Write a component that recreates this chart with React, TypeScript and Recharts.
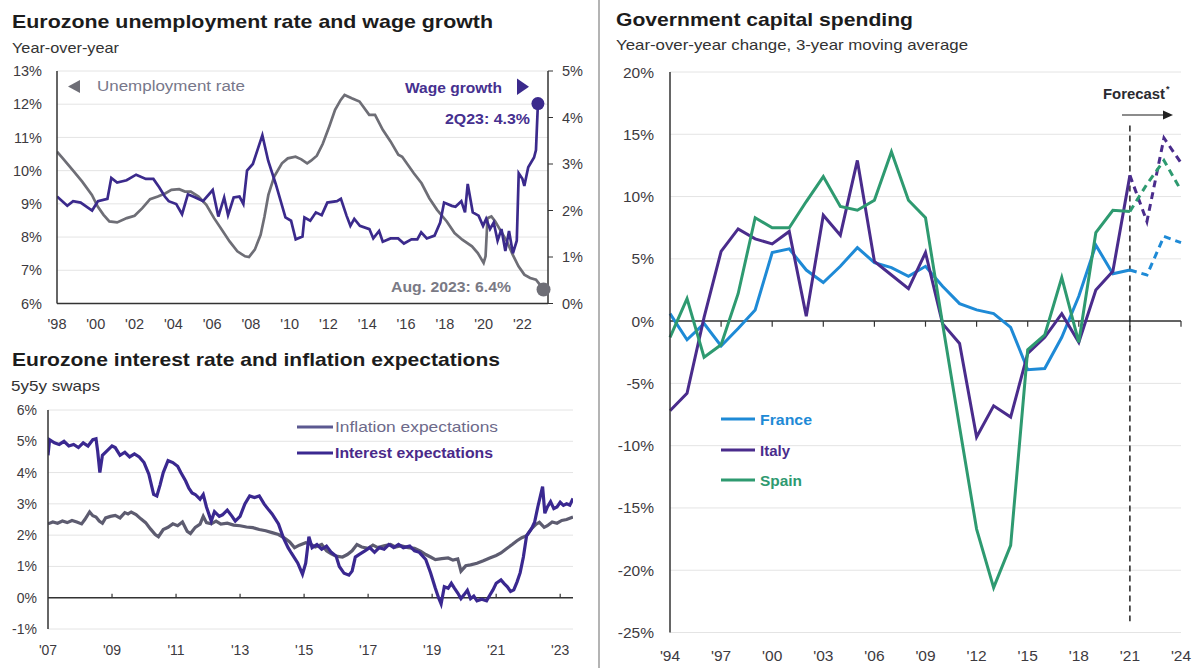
import React from 'react';
import { LineChart, Line, XAxis, YAxis, CartesianGrid, ReferenceLine, ReferenceDot } from 'recharts';

const FONT = '"Liberation Sans", Arial, sans-serif';

// ---------- Top-left: unemployment rate (left axis) and wage growth (right axis) ----------
const unemploymentRate: [number, number][] = [
  [1998.0, 10.57], [1998.3, 10.37], [1998.8, 10.02], [1999.3, 9.67], [1999.8, 9.27], [2000.1, 8.92],
  [2000.4, 8.67], [2000.7, 8.47], [2001.1, 8.44], [2001.6, 8.57], [2002.0, 8.64], [2002.4, 8.87],
  [2002.8, 9.14], [2003.2, 9.22], [2003.6, 9.32], [2003.9, 9.42], [2004.3, 9.44], [2004.6, 9.37],
  [2004.9, 9.37], [2005.3, 9.22], [2005.7, 8.97], [2006.1, 8.57], [2006.5, 8.22], [2006.9, 7.87],
  [2007.3, 7.57], [2007.7, 7.42], [2007.9, 7.4], [2008.2, 7.62], [2008.5, 8.07], [2008.7, 8.62],
  [2008.9, 9.27], [2009.2, 9.82], [2009.6, 10.22], [2009.9, 10.37], [2010.3, 10.42], [2010.6, 10.34],
  [2010.9, 10.22], [2011.1, 10.3], [2011.4, 10.45], [2011.7, 10.8], [2012.04, 11.33], [2012.34, 11.83],
  [2012.63, 12.13], [2012.83, 12.28], [2013.2, 12.18], [2013.6, 12.08], [2014.1, 11.68], [2014.4, 11.68],
  [2014.8, 11.23], [2015.2, 10.88], [2015.6, 10.48], [2015.8, 10.42], [2016.4, 9.92], [2016.8, 9.62],
  [2017.2, 9.17], [2017.6, 8.82], [2018.1, 8.47], [2018.5, 8.12], [2018.9, 7.92], [2019.4, 7.72],
  [2019.7, 7.52], [2020.0, 7.22], [2020.1, 7.42], [2020.2, 8.57], [2020.4, 8.62], [2020.6, 8.47],
  [2020.9, 8.17], [2021.2, 7.87], [2021.5, 7.47], [2021.8, 7.12], [2022.1, 6.87], [2022.4, 6.77],
  [2022.7, 6.72], [2022.9, 6.57], [2023.09, 6.42],
];
const wageGrowth: [number, number][] = [
  [1998.0, 2.3], [1998.53, 2.1], [1998.83, 2.2], [1999.22, 2.17], [1999.81, 2.0], [2000.11, 2.2],
  [2000.6, 2.25], [2000.8, 2.7], [2001.1, 2.6], [2001.59, 2.65], [2002.08, 2.77], [2002.58, 2.68],
  [2002.97, 2.68], [2003.27, 2.5], [2003.56, 2.3], [2003.76, 2.2], [2004.15, 2.14], [2004.45, 1.92],
  [2004.75, 2.35], [2005.14, 2.28], [2005.53, 2.2], [2006.03, 2.44], [2006.32, 1.87], [2006.62, 2.28],
  [2006.82, 1.9], [2007.11, 2.28], [2007.41, 2.3], [2007.61, 2.14], [2007.8, 2.86], [2008.1, 3.0],
  [2008.59, 3.62], [2008.89, 3.07], [2009.28, 2.57], [2009.78, 1.85], [2010.07, 1.78], [2010.31, 1.38],
  [2010.66, 1.44], [2010.76, 1.85], [2011.06, 1.78], [2011.35, 1.96], [2011.65, 1.9], [2011.94, 2.17],
  [2012.44, 2.2], [2012.64, 2.25], [2012.93, 1.89], [2013.13, 1.67], [2013.33, 1.82], [2013.62, 1.67],
  [2014.11, 1.6], [2014.31, 1.4], [2014.61, 1.56], [2014.8, 1.33], [2015.2, 1.4], [2015.59, 1.4],
  [2015.89, 1.29], [2016.28, 1.38], [2016.58, 1.38], [2016.78, 1.53], [2017.07, 1.4], [2017.47, 1.46],
  [2017.76, 1.74], [2017.96, 2.17], [2018.36, 2.1], [2018.55, 2.08], [2018.85, 2.2], [2019.04, 1.96],
  [2019.18, 2.57], [2019.44, 1.96], [2019.74, 1.89], [2019.97, 1.67], [2020.13, 1.82], [2020.33, 1.6],
  [2020.52, 1.74], [2020.72, 1.35], [2020.92, 1.6], [2021.12, 1.13], [2021.31, 1.56], [2021.51, 1.08],
  [2021.71, 1.35], [2021.81, 2.8], [2022.0, 2.68], [2022.1, 2.53], [2022.3, 2.93], [2022.6, 3.14],
  [2022.7, 3.3], [2022.8, 4.3],
];
const unemploymentTicks = [6, 7, 8, 9, 10, 11, 12, 13];
const wageTicks = [0, 1, 2, 3, 4, 5];
const topYearTicks = [1998, 2000, 2002, 2004, 2006, 2008, 2010, 2012, 2014, 2016, 2018, 2020, 2022];

// ---------- Bottom-left: 5y5y swaps ----------
const inflationExpectations: [number, number][] = [
  [2007.0, 2.36], [2007.15, 2.42], [2007.3, 2.38], [2007.45, 2.45], [2007.6, 2.4], [2007.75, 2.47],
  [2007.9, 2.42], [2008.05, 2.36], [2008.15, 2.5], [2008.3, 2.74], [2008.4, 2.62], [2008.5, 2.58],
  [2008.6, 2.45], [2008.7, 2.38], [2008.8, 2.55], [2008.95, 2.6], [2009.1, 2.63], [2009.25, 2.55],
  [2009.4, 2.72], [2009.5, 2.68], [2009.6, 2.74], [2009.75, 2.66], [2009.9, 2.52], [2010.05, 2.4],
  [2010.2, 2.2], [2010.35, 2.02], [2010.45, 1.95], [2010.6, 2.18], [2010.75, 2.25], [2010.9, 2.36],
  [2011.05, 2.3], [2011.2, 2.42], [2011.35, 2.12], [2011.45, 2.05], [2011.6, 2.25], [2011.75, 2.35],
  [2011.85, 2.6], [2011.95, 2.4], [2012.1, 2.36], [2012.25, 2.45], [2012.4, 2.35], [2012.6, 2.38],
  [2012.8, 2.32], [2013.0, 2.3], [2013.2, 2.26], [2013.4, 2.24], [2013.6, 2.18], [2013.8, 2.14],
  [2014.0, 2.08], [2014.2, 2.02], [2014.4, 1.9], [2014.55, 1.78], [2014.7, 1.6], [2014.85, 1.68],
  [2015.05, 1.76], [2015.2, 1.72], [2015.35, 1.62], [2015.55, 1.7], [2015.7, 1.5], [2015.85, 1.4],
  [2016.0, 1.33], [2016.2, 1.3], [2016.35, 1.38], [2016.5, 1.5], [2016.65, 1.7], [2016.8, 1.62],
  [2017.0, 1.58], [2017.15, 1.68], [2017.3, 1.6], [2017.5, 1.66], [2017.7, 1.7], [2017.85, 1.62],
  [2018.05, 1.66], [2018.25, 1.6], [2018.45, 1.58], [2018.65, 1.48], [2018.8, 1.38], [2018.95, 1.3],
  [2019.1, 1.22], [2019.3, 1.25], [2019.5, 1.27], [2019.65, 1.2], [2019.8, 1.24], [2019.9, 0.85],
  [2020.05, 1.02], [2020.2, 1.05], [2020.4, 1.1], [2020.6, 1.18], [2020.8, 1.27], [2021.0, 1.35],
  [2021.15, 1.43], [2021.3, 1.55], [2021.5, 1.7], [2021.65, 1.82], [2021.8, 1.92], [2021.95, 1.98],
  [2022.1, 2.2], [2022.25, 2.35], [2022.35, 2.41], [2022.5, 2.25], [2022.6, 2.3], [2022.75, 2.42],
  [2022.9, 2.38], [2023.05, 2.47], [2023.2, 2.5], [2023.4, 2.58],
];
const interestExpectations: [number, number][] = [
  [2007.0, 4.55], [2007.05, 5.05], [2007.2, 4.95], [2007.35, 4.9], [2007.5, 5.0], [2007.65, 4.85],
  [2007.8, 4.9], [2007.95, 4.8], [2008.1, 4.95], [2008.25, 4.85], [2008.4, 5.05], [2008.5, 5.08],
  [2008.55, 4.7], [2008.62, 4.0], [2008.7, 4.55], [2008.85, 4.7], [2009.0, 4.85], [2009.1, 4.8],
  [2009.25, 4.55], [2009.4, 4.65], [2009.55, 4.5], [2009.7, 4.6], [2009.85, 4.5], [2010.0, 4.32],
  [2010.15, 3.95], [2010.3, 3.3], [2010.4, 3.25], [2010.5, 3.6], [2010.6, 4.0], [2010.75, 4.38],
  [2010.9, 4.32], [2011.05, 4.2], [2011.15, 4.0], [2011.3, 3.73], [2011.4, 3.5], [2011.5, 3.35],
  [2011.6, 3.3], [2011.75, 3.15], [2011.85, 3.3], [2011.95, 2.9], [2012.05, 2.6], [2012.1, 2.45],
  [2012.2, 2.75], [2012.35, 2.6], [2012.45, 2.65], [2012.6, 2.8], [2012.75, 2.6], [2012.85, 2.45],
  [2013.0, 2.6], [2013.15, 3.0], [2013.3, 3.25], [2013.45, 3.2], [2013.6, 3.25], [2013.75, 3.0],
  [2013.9, 2.8], [2014.0, 2.68], [2014.2, 2.36], [2014.35, 1.92], [2014.5, 1.6], [2014.6, 1.43],
  [2014.8, 1.11], [2014.95, 0.75], [2015.05, 1.1], [2015.15, 1.95], [2015.25, 1.6], [2015.4, 1.7],
  [2015.55, 1.55], [2015.7, 1.65], [2015.85, 1.45], [2016.0, 1.33], [2016.1, 1.0], [2016.25, 0.78],
  [2016.4, 0.72], [2016.5, 0.85], [2016.6, 1.3], [2016.75, 1.4], [2016.9, 1.5], [2017.05, 1.6],
  [2017.2, 1.45], [2017.35, 1.6], [2017.5, 1.55], [2017.65, 1.7], [2017.8, 1.6], [2017.95, 1.7],
  [2018.1, 1.6], [2018.3, 1.65], [2018.45, 1.5], [2018.6, 1.45], [2018.8, 1.22], [2018.95, 0.8],
  [2019.1, 0.3], [2019.2, 0.0], [2019.28, -0.2], [2019.38, 0.35], [2019.5, 0.3], [2019.6, 0.46],
  [2019.7, 0.3], [2019.8, 0.15], [2019.9, -0.03], [2020.0, 0.1], [2020.1, 0.24], [2020.2, -0.03],
  [2020.3, 0.05], [2020.4, -0.1], [2020.55, -0.05], [2020.7, -0.1], [2020.8, 0.08], [2020.9, 0.25],
  [2021.0, 0.46], [2021.15, 0.57], [2021.25, 0.45], [2021.35, 0.35], [2021.45, 0.2], [2021.55, 0.25],
  [2021.65, 0.5], [2021.75, 0.8], [2021.85, 1.3], [2021.95, 1.98], [2022.1, 2.2], [2022.2, 2.41],
  [2022.3, 2.9], [2022.45, 3.55], [2022.52, 2.7], [2022.6, 2.9], [2022.7, 3.07], [2022.8, 2.85],
  [2022.9, 2.9], [2023.0, 3.05], [2023.1, 2.95], [2023.2, 3.0], [2023.3, 2.96], [2023.4, 3.17],
];
const swapTicks = [-1, 0, 1, 2, 3, 4, 5, 6];
const swapYearTicks = [2007, 2009, 2011, 2013, 2015, 2017, 2019, 2021, 2023];

// ---------- Right: government capital spending ----------
const capexYears = [
  1994, 1995, 1996, 1997, 1998, 1999, 2000, 2001, 2002, 2003, 2004, 2005, 2006, 2007,
  2008, 2009, 2010, 2011, 2012, 2013, 2014, 2015, 2016, 2017, 2018, 2019, 2020, 2021,
];
const france = [0.6, -1.5, -0.2, -2.0, -0.6, 0.9, 5.5, 5.8, 4.1, 3.1, 4.4, 5.9, 4.7, 4.3, 3.6, 4.4, 2.8, 1.4, 0.9, 0.6, -0.5, -3.9, -3.8, -1.3, 2.0, 6.1, 3.8, 4.1];
const italy = [-7.2, -5.8, 0.3, 5.6, 7.4, 6.6, 6.2, 7.2, 0.4, 8.5, 6.9, 12.9, 4.8, 3.7, 2.6, 5.5, -0.2, -1.8, -9.3, -6.8, -7.7, -2.6, -1.3, 0.6, -1.7, 2.5, 4.0, 11.7];
const spain = [-1.3, 1.8, -2.9, -1.9, 2.2, 8.3, 7.5, 7.5, 9.6, 11.6, 9.2, 8.9, 9.7, 13.6, 9.7, 8.3, -0.2, -8.5, -16.7, -21.4, -18.0, -2.3, -1.1, 3.5, -1.7, 7.1, 8.9, 8.8];
const forecastYears = [2021, 2022, 2023, 2024];
const franceForecast = [4.1, 3.7, 6.8, 6.3];
const italyForecast = [11.7, 8.0, 14.7, 12.7];
const spainForecast = [8.8, 11.0, 12.9, 10.5];
const capexTicks = [-25, -20, -15, -10, -5, 0, 5, 10, 15, 20];
const capexYearTicks = [1994, 1997, 2000, 2003, 2006, 2009, 2012, 2015, 2018, 2021, 2024];

// ---------- colours ----------
const C_UNEMP = '#6e6e76';
const C_WAGE = '#3b2a8c';
const C_INFL = '#5d5c70';
const C_INT = '#3a2890';
const C_FR = '#1e8ad6';
const C_IT = '#4a2c8c';
const C_ES = '#2e9a70';
const AXIS = '#333333';
const GRID = '#e4e4e4';

const yearLabel = (y: number) => "'" + String(y).slice(2);
const pct = (v: number) => `${v}%`;
const toRows = (arr: [number, number][]) => arr.map(([x, v]) => ({ x, v }));

const capexRows = [...capexYears, 2022, 2023, 2024].map((year) => {
  const i = capexYears.indexOf(year);
  const f = forecastYears.indexOf(year);
  return {
    year,
    france: i >= 0 ? france[i] : undefined,
    italy: i >= 0 ? italy[i] : undefined,
    spain: i >= 0 ? spain[i] : undefined,
    franceF: f >= 0 ? franceForecast[f] : undefined,
    italyF: f >= 0 ? italyForecast[f] : undefined,
    spainF: f >= 0 ? spainForecast[f] : undefined,
  };
});

function TopLeftChart() {
  const uRows = toRows(unemploymentRate);
  const wRows = toRows(wageGrowth);
  const uLast = unemploymentRate[unemploymentRate.length - 1];
  const wLast = wageGrowth[wageGrowth.length - 1];
  const tick = { fontSize: 14.5, fill: '#3d3a40', fontFamily: FONT };
  return (
    <LineChart width={590} height={272.5} margin={{ top: 10, right: 2, bottom: 0, left: 10 }}>
      <CartesianGrid yAxisId="u" vertical={false} stroke={GRID} />
      <XAxis type="number" dataKey="x" domain={[1998, 2023.32]} ticks={topYearTicks} tickFormatter={yearLabel}
        allowDataOverflow axisLine={{ stroke: AXIS, strokeWidth: 1.5 }} tickLine={false} tickSize={6} tickMargin={9} height={30} tick={tick} />
      <YAxis yAxisId="u" domain={[6, 13]} ticks={unemploymentTicks} tickFormatter={pct} width={47}
        axisLine={{ stroke: AXIS, strokeWidth: 1.5 }} tickLine={false} tickSize={6} tickMargin={9} tick={tick} />
      <YAxis yAxisId="w" orientation="right" domain={[0, 5]} ticks={wageTicks} tickFormatter={pct} width={40}
        axisLine={{ stroke: AXIS, strokeWidth: 1.5 }} tickLine={{ stroke: AXIS }} tickSize={5} tickMargin={9} tick={tick} />
      <Line yAxisId="u" data={uRows} dataKey="v" stroke={C_UNEMP} strokeWidth={2.7} dot={false} isAnimationActive={false} />
      <Line yAxisId="w" data={wRows} dataKey="v" stroke={C_WAGE} strokeWidth={2.7} dot={false} isAnimationActive={false} />
      <ReferenceDot yAxisId="u" x={uLast[0]} y={uLast[1]} r={7} fill={C_UNEMP} stroke="none" />
      <ReferenceDot yAxisId="w" x={wLast[0]} y={wLast[1]} r={6.5} fill={C_WAGE} stroke="none" />
    </LineChart>
  );
}

function BottomLeftChart() {
  const iRows = toRows(inflationExpectations);
  const rRows = toRows(interestExpectations);
  const tick = { fontSize: 14, fill: '#3d3a40', fontFamily: FONT };
  return (
    <LineChart width={590} height={259} margin={{ top: 10, right: 17, bottom: 0, left: 4 }}>
      <CartesianGrid vertical={false} stroke={GRID} />
      <XAxis type="number" dataKey="x" domain={[2007, 2023.4]} ticks={swapYearTicks} tickFormatter={yearLabel}
        allowDataOverflow axisLine={false} tickLine={false} tickSize={6} tickMargin={10} height={30} tick={tick} />
      <YAxis domain={[-1, 6]} ticks={swapTicks} tickFormatter={pct} width={44}
        axisLine={{ stroke: AXIS, strokeWidth: 1.5 }} tickLine={false} tickSize={6} tickMargin={5} tick={tick} />
      <ReferenceLine y={0} stroke={AXIS} strokeWidth={1.5} />
      {swapYearTicks.slice(1).map((t) => (
        <ReferenceLine key={t} segment={[{ x: t, y: 0 }, { x: t, y: 0.13 }]} stroke={AXIS} strokeWidth={1.2} />
      ))}
      <Line data={iRows} dataKey="v" stroke={C_INFL} strokeWidth={3.2} dot={false} isAnimationActive={false} />
      <Line data={rRows} dataKey="v" stroke={C_INT} strokeWidth={3.2} dot={false} isAnimationActive={false} />
    </LineChart>
  );
}

function RightChart() {
  const tick = { fontSize: 15.5, fill: '#3d3a40', fontFamily: FONT };
  return (
    <LineChart width={595} height={600.5} data={capexRows} margin={{ top: 10, right: 14, bottom: 0, left: 10 }}>
      <CartesianGrid vertical={false} stroke={GRID} />
      <XAxis type="number" dataKey="year" domain={[1994, 2024]} ticks={capexYearTicks} tickFormatter={yearLabel}
        axisLine={false} tickLine={false} tickSize={6} tickMargin={11} height={30} tick={tick} />
      <YAxis domain={[-25, 20]} ticks={capexTicks} tickFormatter={pct} width={60}
        axisLine={{ stroke: AXIS, strokeWidth: 1.5 }} tickLine={false} tickSize={6} tickMargin={10} tick={tick} />
      <ReferenceLine y={0} stroke={AXIS} strokeWidth={1.5} />
      {capexYearTicks.slice(1).map((t) => (
        <ReferenceLine key={t} segment={[{ x: t, y: 0 }, { x: t, y: -0.45 }]} stroke={AXIS} strokeWidth={1.2} />
      ))}
      <ReferenceLine segment={[{ x: 2021, y: 15.7 }, { x: 2021, y: -24.1 }]} stroke="#222" strokeWidth={1.5} strokeDasharray="6 4" />
      <Line dataKey="france" stroke={C_FR} strokeWidth={3} dot={false} isAnimationActive={false} />
      <Line dataKey="italy" stroke={C_IT} strokeWidth={3} dot={false} isAnimationActive={false} />
      <Line dataKey="spain" stroke={C_ES} strokeWidth={3} dot={false} isAnimationActive={false} />
      <Line dataKey="franceF" stroke={C_FR} strokeWidth={3} strokeDasharray="7 5" dot={false} isAnimationActive={false} />
      <Line dataKey="italyF" stroke={C_IT} strokeWidth={3} strokeDasharray="7 5" dot={false} isAnimationActive={false} />
      <Line dataKey="spainF" stroke={C_ES} strokeWidth={3} strokeDasharray="7 5" dot={false} isAnimationActive={false} />
    </LineChart>
  );
}

function Overlay() {
  const t = (x: number, y: number, s: string, size: number, len: number, fill: string, weight: number | string = 'normal') => (
    <text x={x} y={y} fontSize={size} fontWeight={weight} fill={fill} textLength={len} lengthAdjust="spacingAndGlyphs" fontFamily={FONT}>{s}</text>
  );
  return (
    <svg width={1195} height={668} style={{ position: 'absolute', left: 0, top: 0, pointerEvents: 'none' }}>
      <line x1={599} y1={0} x2={599} y2={668} stroke="#8c8c8c" strokeWidth={1.3} />
      {t(12, 28, 'Eurozone unemployment rate and wage growth', 19, 481, '#1c1c1c', 'bold')}
      {t(12, 53, 'Year-over-year', 15, 107, '#333')}
      {t(12, 366, 'Eurozone interest rate and inflation expectations', 19, 488, '#1c1c1c', 'bold')}
      {t(11, 391, '5y5y swaps', 15, 89, '#333')}
      {t(616, 26, 'Government capital spending', 19, 297, '#1c1c1c', 'bold')}
      {t(616, 50, 'Year-over-year change, 3-year moving average', 15, 352, '#333')}

      <polygon points="68,86.5 80,80 80,93" fill="#6e6e76" />
      {t(97, 91, 'Unemployment rate', 14, 148, '#77778a')}
      {t(405, 93, 'Wage growth', 14.5, 97, '#46308f', 'bold')}
      <polygon points="517,78.5 529,86.7 517,95" fill="#3b2a8c" />
      {t(445, 124, '2Q23: 4.3%', 14.5, 85, '#46308f', 'bold')}
      {t(391, 291.5, 'Aug. 2023: 6.4%', 14, 120, '#7a7a85', 'bold')}

      <line x1={297} y1={427} x2={333} y2={427} stroke="#5b5890" strokeWidth={3} />
      {t(335, 432, 'Inflation expectations', 14.5, 163, '#6d6a8a')}
      <line x1={297} y1={453} x2={333} y2={453} stroke={C_INT} strokeWidth={3} />
      {t(335, 458, 'Interest expectations', 14.5, 158, '#4a2a8a', 'bold')}

      <line x1={721} y1={419} x2={755} y2={419} stroke={C_FR} strokeWidth={3} />
      {t(760, 424.5, 'France', 15, 52, C_FR, 'bold')}
      <line x1={721} y1={450} x2={755} y2={450} stroke={C_IT} strokeWidth={3} />
      {t(760, 455.5, 'Italy', 15, 30, C_IT, 'bold')}
      <line x1={721} y1={480} x2={755} y2={480} stroke={C_ES} strokeWidth={3} />
      {t(760, 485.5, 'Spain', 15, 42, C_ES, 'bold')}

      {t(1103, 99, 'Forecast', 14.5, 62, '#2a2a30', 'bold')}
      <text x={1166} y={92} fontSize={9} fontWeight="bold" fill="#2a2a30" fontFamily={FONT}>*</text>
      <line x1={1122} y1={115} x2={1164} y2={115} stroke="#666" strokeWidth={1.5} />
      <polygon points="1163,110.5 1173,115 1163,119.5" fill="#222" />
    </svg>
  );
}

export default function App() {
  return (
    <div style={{ position: 'absolute', left: 0, top: 0, width: 1195, height: 668, background: '#fff', fontFamily: FONT, overflow: 'hidden' }}>
      <div style={{ position: 'absolute', left: 0, top: 61 }}><TopLeftChart /></div>
      <div style={{ position: 'absolute', left: 0, top: 399.5 }}><BottomLeftChart /></div>
      <div style={{ position: 'absolute', left: 600, top: 62 }}><RightChart /></div>
      <Overlay />
    </div>
  );
}
